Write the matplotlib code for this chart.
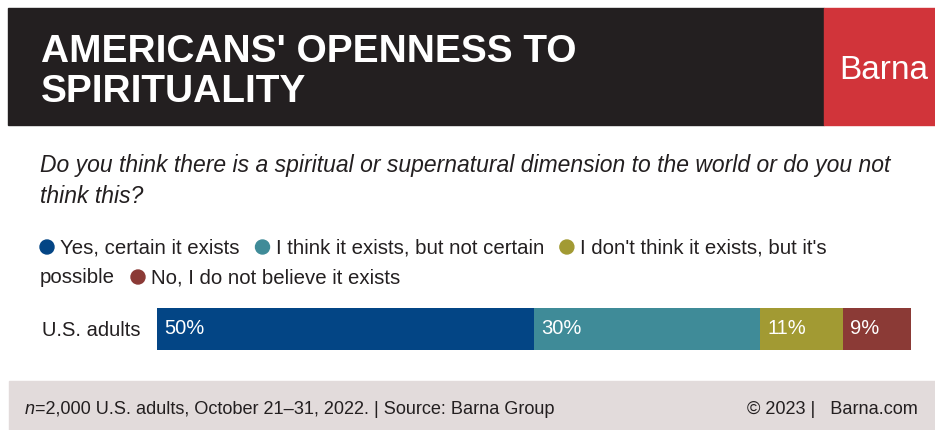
import matplotlib
matplotlib.use("Agg")
import matplotlib.pyplot as plt
from matplotlib.patches import Rectangle, Circle

plt.rcParams['font.family'] = ['Liberation Sans', 'DejaVu Sans']

# ---- data ----
title_lines = ["AMERICANS' OPENNESS TO", "SPIRITUALITY"]
brand = "Barna"
question_lines = ["Do you think there is a spiritual or supernatural dimension to the world or do you not",
                  "think this?"]
series_names = ["Yes, certain it exists", "I think it exists, but not certain",
                "I don't think it exists, but it's possible", "No, I do not believe it exists"]
series_colors = ["#034585", "#3f8b98", "#a29a33", "#8b3a36"]
category = "U.S. adults"
values = [50, 30, 11, 9]
footer_left_italic = "n"
footer_left = "=2,000 U.S. adults, October 21\u201331, 2022. | Source: Barna Group"
footer_right = "\u00a9 2023 |   Barna.com"

W, H = 935, 430
DPI = 100
fig = plt.figure(figsize=(W / DPI, H / DPI), dpi=DPI)
fig.patch.set_facecolor("white")

# full-figure canvas in pixel coordinates (y downward)
bg = fig.add_axes([0, 0, 1, 1])
bg.set_xlim(0, W)
bg.set_ylim(H, 0)
bg.axis("off")

TEXT = "#231f20"

# header bands
bg.add_patch(Rectangle((8, 8), 816, 117, color="#231f20", zorder=0))
bg.add_patch(Rectangle((824, 8), W - 824, 117, color="#d1343a", zorder=0))
bg.text(41, 62, title_lines[0], color="white", fontsize=28, fontweight="bold", va="baseline")
bg.text(41, 102, title_lines[1], color="white", fontsize=28, fontweight="bold", va="baseline")
bg.text(839, 79, brand, color="white", fontsize=24, va="baseline")

# question
Q_FS = 16.5
bg.text(40, 172, question_lines[0], color=TEXT, fontsize=Q_FS, style="italic", va="baseline")
bg.text(40, 203, question_lines[1], color=TEXT, fontsize=Q_FS, style="italic", va="baseline")

# legend, flowed across lines
fig.canvas.draw()
renderer = fig.canvas.get_renderer()
LEG_FS = 14.7


def text_width(s):
    t = bg.text(0, 0, s, fontsize=LEG_FS)
    w = t.get_window_extent(renderer).width
    t.remove()
    return w


x0, max_x = 40, 895
line_y = [253, 283]
line = 0
x = x0
r = 7
for name, col in zip(series_names, series_colors):
    if x + 2 * r + 30 > max_x:
        line += 1
        x = x0
    cx = x + r
    bg.add_patch(Circle((cx, line_y[line] - 6), r, color=col, zorder=2))
    x = cx + r + 6
    words = name.split(" ")
    while words:
        # longest run of words that fits on the current line
        n = len(words)
        while n > 1 and x + text_width(" ".join(words[:n])) > max_x:
            n -= 1
        chunk = " ".join(words[:n])
        if x + text_width(chunk) > max_x and x > x0:
            line += 1
            x = x0
            continue
        bg.text(x, line_y[line], chunk, fontsize=LEG_FS, color=TEXT, va="baseline")
        x += text_width(chunk)
        words = words[n:]
        if words:
            line += 1
            x = x0
    x += 16

# footer band
F_FS = 13.1
bg.add_patch(Rectangle((9, 381), W - 9, H - 381, color="#e2dbdb", zorder=0))
tn = bg.text(25, 414, footer_left_italic, fontsize=F_FS, style="italic", color=TEXT, va="baseline")
nw = tn.get_window_extent(renderer).width
bg.text(25 + nw, 414, footer_left, fontsize=F_FS, color=TEXT, va="baseline")
bg.text(918, 414, footer_right, fontsize=F_FS, color=TEXT, va="baseline", ha="right")

# stacked bar
bx0, bx1, by0, by1 = 157, 911, 308, 350
ax = fig.add_axes([bx0 / W, 1 - by1 / H, (bx1 - bx0) / W, (by1 - by0) / H])
left = 0
for v, col in zip(values, series_colors):
    ax.barh(0, v, left=left, height=1.0, color=col, edgecolor="none")
    ax.annotate(f"{v}%", xy=(left, 0), xytext=(7 * 72 / DPI, 0), textcoords="offset points",
                va="center", ha="left", color="white", fontsize=14.5)
    left += v
ax.set_xlim(0, sum(values))
ax.set_ylim(-0.5, 0.5)
ax.set_yticks([0])
ax.set_yticklabels([category], fontsize=14.5, color=TEXT)
ax.tick_params(axis="y", length=0, pad=17 * 72 / DPI)
ax.set_xticks([])
for s in ax.spines.values():
    s.set_visible(False)

fig.savefig("out.png", dpi=DPI)
